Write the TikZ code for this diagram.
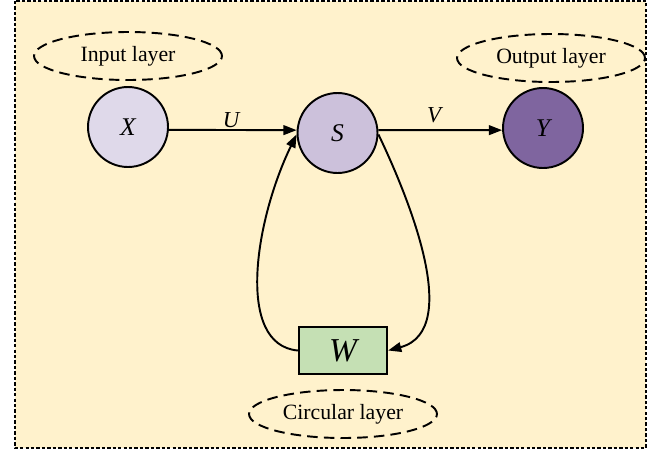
\documentclass[tikz,border=0pt]{standalone}
\usepackage{fontspec}
\setmainfont{Liberation Serif}
\usetikzlibrary{arrows.meta,shapes.geometric}
\definecolor{panel}{HTML}{FFF2CC}
\definecolor{lightpurple}{HTML}{DFD9EA}
\definecolor{midpurple}{HTML}{CCC1DB}
\definecolor{darkpurple}{HTML}{7F659F}
\definecolor{lightgreen}{HTML}{C5E0B4}
\tikzset{
  unit/.style={circle, draw=black, line width=1.1pt, minimum size=0.8*2cm, inner sep=0pt,
               font=\fontsize{14.5}{16}\selectfont\itshape},
  layer/.style={ellipse, draw=black, line width=1.1pt, dash pattern=on 6pt off 3.5pt,
                minimum width=3.76cm, minimum height=0.96cm, inner sep=0pt,
                font=\fontsize{12.4}{14}\selectfont},
  weightbox/.style={rectangle, draw=black, fill=lightgreen, line width=1.3pt,
                    minimum width=1.76cm, minimum height=0.94cm, inner sep=0pt,
                    font=\fontsize{19}{21}\selectfont\itshape},
  edgelabel/.style={font=\fontsize{13}{15}\selectfont\itshape},
  conn/.style={line width=1.1pt, -{Triangle[length=7.5pt,width=5.5pt]}},
}
\begin{document}
\begin{tikzpicture}[x=0.02cm, y=-0.02cm]
  \useasboundingbox (0,0) rectangle (665,450);
  % panel
  \fill[panel] (15,1) rectangle (646,448);
  \draw[line width=1.4pt, dash pattern=on 1.9pt off 1.2pt] (15,1) rectangle (646,448);

  % layer captions
  \node[layer] (inlayer)  at (128,56)  {Input layer};
  \node[layer] (outlayer) at (551,58)  {Output layer};
  \node[layer] (circlayer) at (343,414) {Circular layer};

  % units
  \node[unit, fill=lightpurple] (X) at (128,127)   {X};
  \node[unit, fill=midpurple]   (S) at (337.5,133) {S};
  \node[unit, fill=darkpurple]  (Y) at (543,128)   {Y};
  \node[weightbox] (W) at (343,350.5) {W};

  % connections
  \draw[conn] (X.-4) -- (S.176);
  \draw[conn] (S.4) -- (Y.183);
  \node[edgelabel] (lu) at (231,120) {U};
  \node[edgelabel] (lv) at (434,115) {V};

  % recurrent loop
  \draw[conn] (W.west) .. controls (235,345) and (255,220) .. (S.182);
  \draw[conn] (S.-2) .. controls (405,190) and (465,330) .. (W.east);
\end{tikzpicture}
\end{document}
